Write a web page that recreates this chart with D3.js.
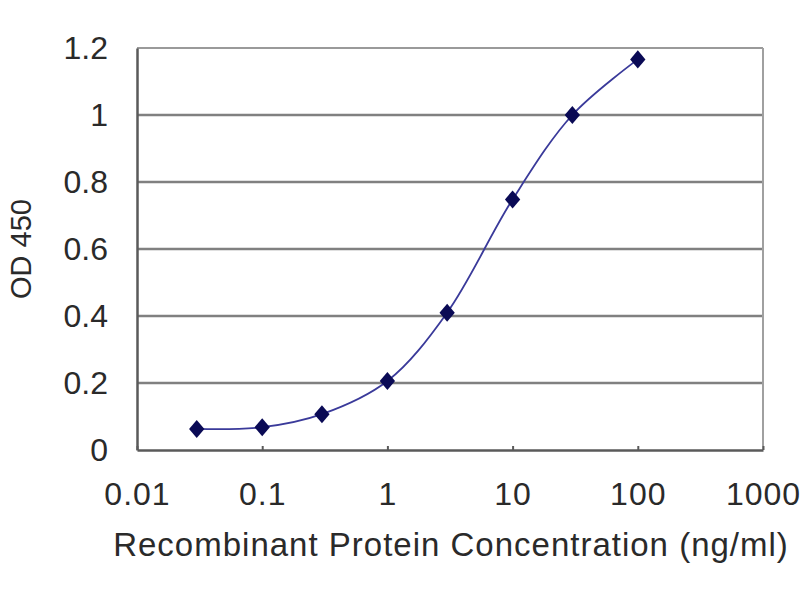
<!DOCTYPE html>
<html>
<head>
<meta charset="utf-8">
<script src="https://cdn.jsdelivr.net/npm/d3@7"></script>
<style>
  body { margin: 0; background: #fff; }
  text { font-family: "Liberation Sans", Arial, sans-serif; fill: #2a2a2a; }
</style>
</head>
<body>
<svg id="canvas"></svg>
<script>
let width = 800;
let height = 600;

// data
let concentrations = [0.03, 0.1, 0.3, 1, 3, 10, 30, 100];
let odValues = [0.063, 0.068, 0.107, 0.206, 0.41, 0.748, 1.0, 1.166];
let xTicks = [0.01, 0.1, 1, 10, 100, 1000];
let xTickLabels = ['0.01', '0.1', '1', '10', '100', '1000'];
let yTicks = [0, 0.2, 0.4, 0.6, 0.8, 1, 1.2];
let yTickLabels = ['0', '0.2', '0.4', '0.6', '0.8', '1', '1.2'];

let plotLeft = 137, plotRight = 763, plotTop = 48, plotBottom = 450;

let canvas = d3.select('#canvas').attr('width', width).attr('height', height);

let xScale = d3.scaleLog().domain([0.01, 1000]).range([plotLeft, plotRight]);
let yScale = d3.scaleLinear().domain([0, 1.2]).range([plotBottom, plotTop]);

let data = concentrations.map((c, i) => ({ x: c, y: odValues[i] }));

// gridlines
canvas.append('g')
    .selectAll('line')
    .data(yTicks.filter((d) => d > 0))
    .enter()
    .append('line')
    .attr('x1', plotLeft)
    .attr('x2', plotRight)
    .attr('y1', (d) => yScale(d))
    .attr('y2', (d) => yScale(d))
    .attr('stroke', (d) => (d === 1.2 ? '#9a9a9a' : '#808080'))
    .attr('stroke-width', (d) => (d === 1.2 ? 2 : 2.5));

// right border
canvas.append('line')
    .attr('x1', plotRight).attr('x2', plotRight)
    .attr('y1', plotTop).attr('y2', plotBottom)
    .attr('stroke', '#a0a0a0')
    .attr('stroke-width', 2);

// x axis
let xAxis = d3.axisBottom(xScale)
    .tickValues(xTicks)
    .tickFormat((d, i) => xTickLabels[i])
    .tickSizeInner(-4)
    .tickSizeOuter(0);

let gx = canvas.append('g')
    .attr('id', 'x-axis')
    .attr('transform', `translate(0, ${plotBottom})`)
    .call(xAxis);
gx.select('.domain').attr('stroke', '#5a5a5a').attr('stroke-width', 2.5);
gx.selectAll('.tick line').attr('stroke', '#5a5a5a').attr('stroke-width', 2);
gx.selectAll('.tick text')
    .attr('font-size', 32)
    .attr('letter-spacing', 1)
    .attr('fill', '#2a2a2a')
    .attr('dy', '0.71em')
    .attr('y', 32);

// y axis
let yAxis = d3.axisLeft(yScale)
    .tickValues(yTicks)
    .tickFormat((d, i) => yTickLabels[i])
    .tickSize(0)
    .tickPadding(29);

let gy = canvas.append('g')
    .attr('id', 'y-axis')
    .attr('transform', `translate(${plotLeft}, 0)`)
    .call(yAxis);
gy.select('.domain').attr('stroke', '#5a5a5a').attr('stroke-width', 2.5);
gy.selectAll('.tick text')
    .attr('font-size', 32)
    .attr('fill', '#2a2a2a');

// smoothed curve
let line = d3.line()
    .x((d) => xScale(d.x))
    .y((d) => yScale(d.y))
    .curve(d3.curveCatmullRom.alpha(0.5));

canvas.append('path')
    .datum(data)
    .attr('d', line)
    .attr('fill', 'none')
    .attr('stroke', '#3a3a9a')
    .attr('stroke-width', 1.8);

// diamond markers
let diamond = d3.symbol().type(d3.symbolDiamond).size(130);
canvas.append('g')
    .selectAll('path')
    .data(data)
    .enter()
    .append('path')
    .attr('d', diamond)
    .attr('transform', (d) => `translate(${xScale(d.x)}, ${yScale(d.y)}) scale(1.25, 0.85)`)
    .attr('fill', '#0a0a55');

// axis titles
canvas.append('text')
    .attr('x', 451)
    .attr('y', 556)
    .attr('text-anchor', 'middle')
    .attr('font-size', 33)
    .attr('letter-spacing', 1)
    .text('Recombinant Protein Concentration (ng/ml)');

canvas.append('text')
    .attr('transform', `translate(31, ${(plotTop + plotBottom) / 2}) rotate(-90)`)
    .attr('text-anchor', 'middle')
    .attr('font-size', 29)
    .text('OD 450');
</script>
</body>
</html>
